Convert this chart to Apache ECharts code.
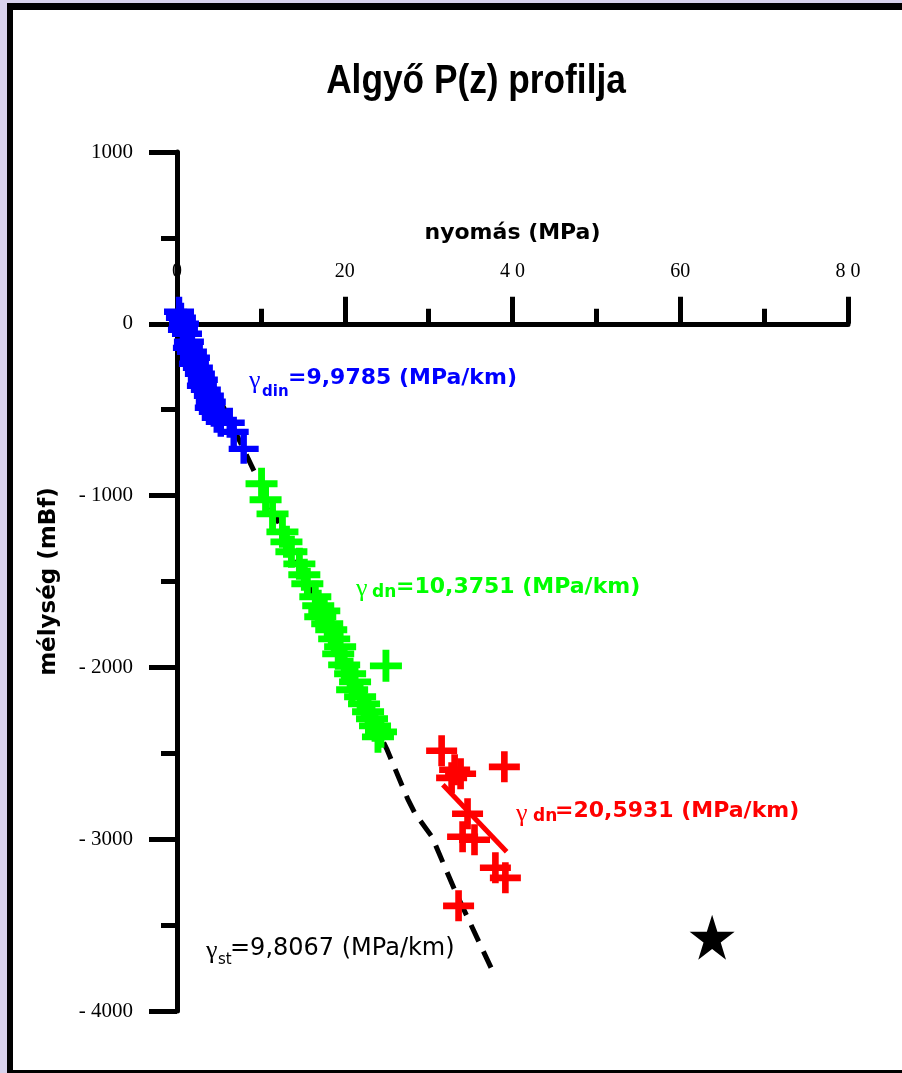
<!DOCTYPE html>
<html>
<head>
<meta charset="utf-8">
<script src="https://cdn.jsdelivr.net/npm/echarts@6/dist/echarts.min.js"></script>
<style>
  html, body { margin: 0; padding: 0; background: #d8d2ec; }
  #chart { width: 902px; height: 1073px; }
</style>
</head>
<body>
<div id="chart"></div>
<script>
// tengelyek
const xTickValues = [0, 20, 40, 60, 80];
const xTickLabels = ['0', '20', '4 0', '60', '8 0'];
const yTickValues = [-4000, -3000, -2000, -1000, 0, 1000];
const yTickLabels = ['- 4000', '- 3000', '- 2000', '- 1000', '0', '1000'];

// nyomás (MPa) / mélység (mBf) mérések
const bluePressure = [0.24, 0.47, 0.83, 0.71, 1.19, 1.42, 1.30, 1.78, 2.14, 2.02, 2.49, 2.73, 3.08, 2.97, 3.44, 3.80, 4.03, 3.91, 4.39, 4.74, 5.22, 6.29, 6.76, 7.95];
const blueDepth = [70, 35, 0, -35, -58, -105, -140, -163, -198, -233, -256, -291, -326, -361, -384, -419, -454, -489, -512, -547, -570, -576, -629, -728];

const greenPressure = [10.08, 10.56, 11.39, 12.57, 13.05, 13.64, 14.59, 15.18, 15.54, 16.49, 16.84, 17.56, 17.08, 17.91, 18.39, 18.74, 19.45, 19.22, 19.93, 20.64, 21.23, 20.88, 21.83, 22.30, 22.78, 23.25, 23.61, 24.32, 23.96, 24.91];
const greenDepth = [-931, -1024, -1106, -1211, -1269, -1327, -1397, -1461, -1513, -1589, -1641, -1671, -1705, -1746, -1781, -1834, -1880, -1921, -1985, -2037, -2084, -2130, -2171, -2212, -2258, -2299, -2340, -2375, -2404, -1991];

const redPressure = [31.55, 39.03, 33.10, 32.74, 33.81, 34.64, 34.05, 35.47, 37.96, 39.15, 33.57];
const redDepth = [-2485, -2579, -2596, -2643, -2619, -2852, -2986, -3003, -3166, -3225, -3388];

// illesztett egyenes (piros) és hidrosztatikus vonal (szaggatott)
const redFitPressure = [31.7, 39.3];
const redFitDepth = [-2683, -3073];
const staticPressure = [0.8, 25.0, 27.5, 28.4, 30.4, 33.1, 37.5];
const staticDepth = [0, -2474, -2765, -2852, -2986, -3295, -3754];

const starPressure = [63.8];
const starDepth = [-3570];

const pairs = (xs, ys) => xs.map((x, i) => [x, ys[i]]);

const PLUS = 'path://M11,0L17,0L17,11L28,11L28,17L17,17L17,28L11,28L11,17L0,17L0,11L11,11Z';
const STAR = 'path://M50,0L61.2,34.5L97.6,34.5L68.2,55.9L79.4,90.5L50,69.1L20.6,90.5L31.8,55.9L2.4,34.5L38.8,34.5Z';

const black = '#000';
const tickStyle = { color: black, width: 5 };

const gridTop = 152;
const gridBottom = 62;
const yMin = -4000;
const yMax = 1000;
// az x tengely a 0 mélységnél fut
const zeroOffset = (1073 - gridTop - gridBottom) * yMax / (yMax - yMin);

const chart = echarts.init(document.getElementById('chart'));

const option = {
  backgroundColor: '#d8d2ec',
  animation: false,
  grid: { left: 177, right: 54, top: gridTop, bottom: gridBottom, containLabel: false },
  xAxis: {
    type: 'value',
    position: 'top',
    offset: -zeroOffset,
    min: 0,
    max: 80,
    interval: 20,
    axisLine: { onZero: false, lineStyle: tickStyle },
    axisTick: { length: 27, lineStyle: tickStyle },
    minorTick: { show: true, splitNumber: 2, length: 15, lineStyle: tickStyle },
    splitLine: { show: false },
    axisLabel: {
      margin: 42,
      fontFamily: 'Liberation Serif',
      fontSize: 20,
      color: black,
      formatter: v => xTickLabels[xTickValues.indexOf(v)]
    },
    name: 'nyomás (MPa)',
    nameLocation: 'middle',
    nameGap: 80,
    nameTextStyle: { fontFamily: 'DejaVu Sans', fontWeight: 'bold', fontSize: 22, color: black }
  },
  yAxis: {
    type: 'value',
    min: yMin,
    max: yMax,
    interval: 1000,
    axisLine: { onZero: false, lineStyle: tickStyle },
    axisTick: { length: 28, lineStyle: tickStyle },
    minorTick: { show: true, splitNumber: 2, length: 16, lineStyle: tickStyle },
    splitLine: { show: false },
    axisLabel: {
      margin: 44,
      fontFamily: 'Liberation Serif',
      fontSize: 21,
      color: black,
      formatter: v => yTickLabels[yTickValues.indexOf(v)]
    },
    name: 'mélység (mBf)',
    nameLocation: 'middle',
    nameGap: 116,
    nameTextStyle: { fontFamily: 'DejaVu Sans', fontWeight: 'bold', fontSize: 23, color: black }
  },
  graphic: [
    { type: 'rect', z: -20, shape: { x: 7, y: 3, width: 900, height: 1070 }, style: { fill: black } },
    { type: 'rect', z: -10, shape: { x: 13, y: 10, width: 895, height: 1060 }, style: { fill: '#fff' } },
    {
      type: 'text', x: 476, y: 82, scaleX: 0.86,
      style: { text: 'Algyő P(z) profilja', fill: black, font: 'bold 41px "Liberation Sans", Arial, sans-serif', textAlign: 'center', textVerticalAlign: 'middle' }
    },
    // kék
    { type: 'text', x: 249, y: 381, style: { text: 'γ', fill: '#0000ff', font: '26px "Liberation Serif"', textVerticalAlign: 'middle' } },
    { type: 'text', x: 262, y: 392, style: { text: 'din', fill: '#0000ff', font: 'bold 15px "DejaVu Sans"', textVerticalAlign: 'middle' } },
    { type: 'text', x: 288, y: 378, style: { text: '=9,9785 (MPa/km)', fill: '#0000ff', font: 'bold 22px "DejaVu Sans"', textVerticalAlign: 'middle' } },
    // zöld
    { type: 'text', x: 356, y: 589, style: { text: 'γ', fill: '#00ff00', font: '26px "Liberation Serif"', textVerticalAlign: 'middle' } },
    { type: 'text', x: 372, y: 593, style: { text: 'dn', fill: '#00ff00', font: 'bold 17px "DejaVu Sans"', textVerticalAlign: 'middle' } },
    { type: 'text', x: 396, y: 587, style: { text: '=10,3751 (MPa/km)', fill: '#00ff00', font: 'bold 22px "DejaVu Sans"', textVerticalAlign: 'middle' } },
    // piros
    { type: 'text', x: 516, y: 814, style: { text: 'γ', fill: '#ff0000', font: '26px "Liberation Serif"', textVerticalAlign: 'middle' } },
    { type: 'text', x: 533, y: 817, style: { text: 'dn', fill: '#ff0000', font: 'bold 17px "DejaVu Sans"', textVerticalAlign: 'middle' } },
    { type: 'text', x: 555, y: 811, style: { text: '=20,5931 (MPa/km)', fill: '#ff0000', font: 'bold 22px "DejaVu Sans"', textVerticalAlign: 'middle' } },
    // fekete
    { type: 'text', x: 206, y: 951, style: { text: 'γ', fill: black, font: '26px "Liberation Serif"', textVerticalAlign: 'middle' } },
    { type: 'text', x: 218, y: 960, style: { text: 'st', fill: black, font: '15px "DejaVu Sans"', textVerticalAlign: 'middle' } },
    { type: 'text', x: 230, y: 949, style: { text: '=9,8067 (MPa/km)', fill: black, font: '24px "DejaVu Sans"', textVerticalAlign: 'middle' } }
  ],
  series: [
    {
      type: 'line',
      z: 1,
      data: pairs(staticPressure, staticDepth),
      showSymbol: false,
      lineStyle: { color: black, width: 5, type: [18, 11] }
    },
    {
      type: 'line',
      z: 1,
      data: pairs(redFitPressure, redFitDepth),
      showSymbol: false,
      lineStyle: { color: '#ff0000', width: 5 }
    },
    {
      type: 'scatter',
      z: 3,
      data: pairs(bluePressure, blueDepth),
      symbol: PLUS,
      symbolSize: 30,
      itemStyle: { color: '#0000ff', opacity: 1 }
    },
    {
      type: 'scatter',
      z: 3,
      data: pairs(greenPressure, greenDepth),
      symbol: PLUS,
      symbolSize: 32,
      itemStyle: { color: '#00ff00', opacity: 1 }
    },
    {
      type: 'scatter',
      z: 3,
      data: pairs(redPressure, redDepth),
      symbol: PLUS,
      symbolSize: 31,
      itemStyle: { color: '#ff0000', opacity: 1 }
    },
    {
      type: 'scatter',
      z: 3,
      data: pairs(starPressure, starDepth),
      symbol: STAR,
      symbolSize: 45,
      itemStyle: { color: black, opacity: 1 }
    }
  ]
};

chart.setOption(option);
</script>
</body>
</html>
